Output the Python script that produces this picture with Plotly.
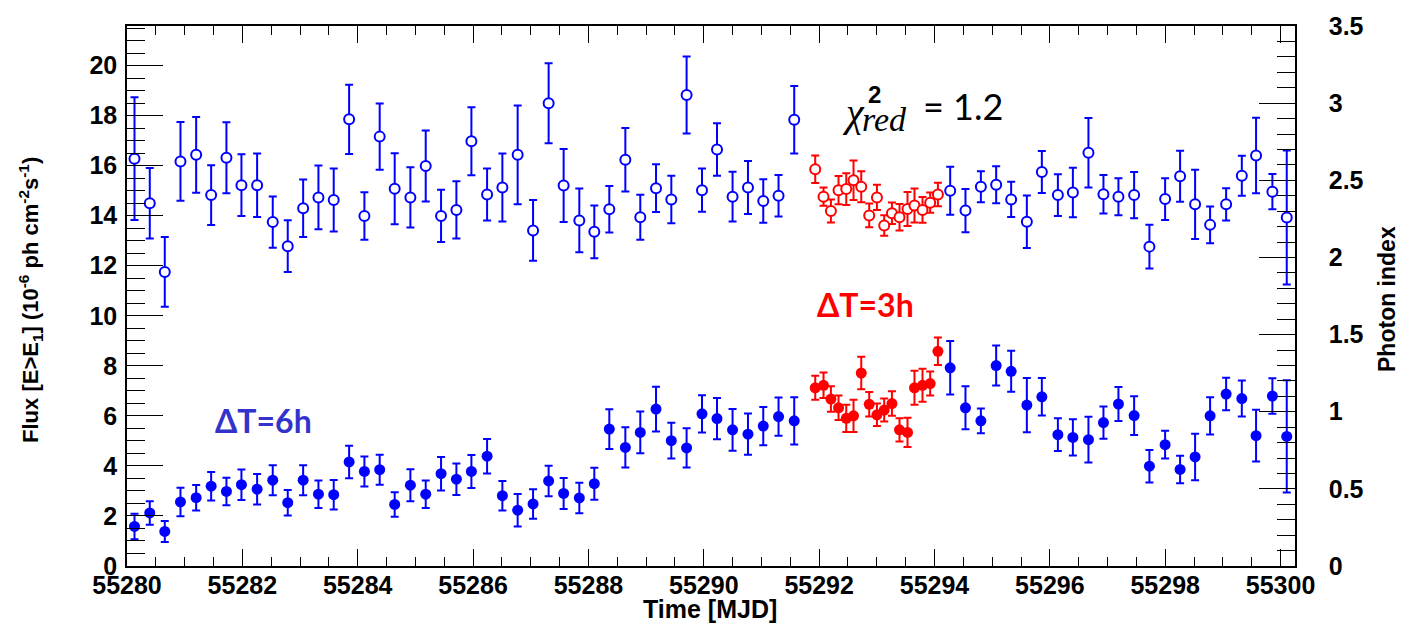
import plotly.graph_objects as go

# ---------------- data ----------------
# 6-hour bins (blue)
t_6h = [55280.130, 55280.395, 55280.655, 55280.927, 55281.199, 55281.459, 55281.724, 55281.984,
        55282.256, 55282.527, 55282.787, 55283.054, 55283.319, 55283.584, 55283.851, 55284.116,
        55284.381, 55284.641, 55284.913, 55285.179, 55285.445, 55285.711, 55285.971, 55286.243,
        55286.508, 55286.773, 55287.040, 55287.310, 55287.570, 55287.842, 55288.102, 55288.362,
        55288.640, 55288.899, 55289.172, 55289.437, 55289.702, 55289.969, 55290.229, 55290.499,
        55290.766, 55291.031, 55291.296, 55291.568,
        55294.272, 55294.537, 55294.804, 55295.069, 55295.329, 55295.601, 55295.861, 55296.139,
        55296.399, 55296.669, 55296.929, 55297.189, 55297.461, 55297.726, 55297.998, 55298.258,
        55298.518, 55298.778, 55299.056, 55299.328, 55299.575, 55299.858, 55300.107]
flux_6h = [1.58, 2.12, 1.38, 2.56, 2.73, 3.19, 2.98, 3.25, 3.07, 3.43, 2.53, 3.43, 2.87, 2.85,
           4.16, 3.78, 3.85, 2.46, 3.23, 2.87, 3.69, 3.47, 3.78, 4.39, 2.81, 2.23, 2.48, 3.40,
           2.90, 2.72, 3.29, 5.47, 4.74, 5.34, 6.27, 5.01, 4.72, 6.08, 5.89, 5.44, 5.27, 5.59,
           5.97, 5.80,
           7.92, 6.32, 5.80, 8.01, 7.78, 6.43, 6.76, 5.25, 5.14, 5.05, 5.73, 6.47, 6.01, 3.99,
           4.85, 3.86, 4.36, 6.00, 6.87, 6.69, 5.21, 6.79, 5.18]
flux_6h_err = [0.51, 0.47, 0.42, 0.57, 0.51, 0.57, 0.55, 0.61, 0.61, 0.60, 0.51, 0.60, 0.55, 0.59,
               0.65, 0.60, 0.60, 0.49, 0.64, 0.55, 0.67, 0.63, 0.66, 0.69, 0.59, 0.65, 0.59, 0.61,
               0.62, 0.61, 0.64, 0.79, 0.80, 0.83, 0.89, 0.71, 0.78, 0.74, 0.82, 0.83, 0.82, 0.76,
               0.76, 0.94,
               1.07, 0.86, 0.49, 0.80, 0.82, 1.08, 0.75, 0.65, 0.72, 0.91, 0.64, 0.68, 0.77, 0.65,
               0.55, 0.55, 0.93, 0.74, 0.65, 0.72, 1.03, 0.71, 2.24]
index_6h = [2.640, 2.351, 1.906, 2.622, 2.665, 2.404, 2.646, 2.468, 2.468, 2.229, 2.073, 2.319,
            2.389, 2.372, 2.895, 2.269, 2.783, 2.445, 2.389, 2.593, 2.269, 2.308, 2.753, 2.408,
            2.453, 2.665, 2.175, 2.999, 2.466, 2.240, 2.166, 2.312, 2.633, 2.261, 2.449, 2.376,
            3.053, 2.436, 2.699, 2.394, 2.453, 2.365, 2.400, 2.892,
            2.432, 2.304, 2.458, 2.471, 2.376, 2.231, 2.554, 2.404, 2.421, 2.678, 2.410, 2.394,
            2.404, 2.070, 2.378, 2.526, 2.344, 2.211, 2.344, 2.529, 2.661, 2.426, 2.259]
index_6h_err = [0.398, 0.229, 0.226, 0.255, 0.245, 0.194, 0.230, 0.200, 0.206, 0.166, 0.168, 0.186,
                0.207, 0.204, 0.225, 0.154, 0.214, 0.230, 0.195, 0.230, 0.169, 0.185, 0.220, 0.169,
                0.220, 0.320, 0.197, 0.259, 0.236, 0.207, 0.171, 0.151, 0.206, 0.146, 0.155, 0.154,
                0.249, 0.140, 0.170, 0.161, 0.172, 0.141, 0.135, 0.219,
                0.155, 0.140, 0.100, 0.120, 0.114, 0.170, 0.136, 0.135, 0.161, 0.225, 0.125, 0.120,
                0.150, 0.141, 0.135, 0.165, 0.224, 0.119, 0.105, 0.130, 0.245, 0.114, 0.434]

# 3-hour bins (red)
t_3h = [55291.932, 55292.076, 55292.204, 55292.336, 55292.470, 55292.596, 55292.730, 55292.868,
        55293.002, 55293.128, 55293.262, 55293.393, 55293.532, 55293.653, 55293.792, 55293.925,
        55294.059]
flux_3h = [7.12, 7.22, 6.67, 6.32, 5.90, 6.00, 7.71, 6.46, 6.04, 6.23, 6.49, 5.44, 5.34, 7.12,
           7.22, 7.29, 8.58]
flux_3h_err = [0.48, 0.51, 0.51, 0.49, 0.54, 0.64, 0.65, 0.49, 0.45, 0.46, 0.49, 0.46, 0.58, 0.68,
               0.66, 0.48, 0.55]
index_3h = [2.571, 2.394, 2.301, 2.436, 2.443, 2.500, 2.458, 2.272, 2.389, 2.207, 2.286, 2.261,
            2.314, 2.336, 2.308, 2.355, 2.408]
index_3h_err = [0.089, 0.059, 0.075, 0.092, 0.103, 0.128, 0.100, 0.077, 0.082, 0.066, 0.070, 0.086,
                0.110, 0.110, 0.083, 0.066, 0.076]

BLUE = "#0000ff"
RED = "#ff0000"

fig = go.Figure()

# flux (filled markers, left axis)
fig.add_trace(go.Scatter(
    x=t_6h, y=flux_6h, mode="markers", name="Flux 6h",
    marker=dict(symbol="circle", size=11, color=BLUE),
    error_y=dict(type="data", array=flux_6h_err, color=BLUE, thickness=2, width=4),
))
fig.add_trace(go.Scatter(
    x=t_3h, y=flux_3h, mode="markers", name="Flux 3h",
    marker=dict(symbol="circle", size=11, color=RED),
    error_y=dict(type="data", array=flux_3h_err, color=RED, thickness=2, width=4),
))
# photon index (open markers, right axis)
fig.add_trace(go.Scatter(
    x=t_6h, y=index_6h, mode="markers", name="Index 6h", yaxis="y2",
    marker=dict(symbol="circle", size=10, color="white", line=dict(color=BLUE, width=2)),
    error_y=dict(type="data", array=index_6h_err, color=BLUE, thickness=2, width=4),
))
fig.add_trace(go.Scatter(
    x=t_3h, y=index_3h, mode="markers", name="Index 3h", yaxis="y2",
    marker=dict(symbol="circle", size=10, color="white", line=dict(color=RED, width=2)),
    error_y=dict(type="data", array=index_3h_err, color=RED, thickness=2, width=4),
))

tickfont = dict(family="Liberation Sans, Arial, sans-serif", size=25, color="black", weight="bold")

fig.update_layout(
    width=1416, height=625,
    margin=dict(l=127, r=121, t=20, b=59),
    paper_bgcolor="white", plot_bgcolor="white",
    showlegend=False,
    xaxis=dict(
        range=[55280, 55300.25], tick0=55280, dtick=2, tickformat="d",
        ticks="inside", ticklen=17, tickwidth=1, tickcolor="black",
        minor=dict(dtick=0.5, ticklen=9, ticks="inside", tickcolor="black", tickwidth=1),
        showline=True, linecolor="black", linewidth=1.5, mirror="ticks",
        showgrid=False, zeroline=False, tickfont=tickfont, ticklabelstandoff=-4,
    ),
    yaxis=dict(
        range=[0, 21.58], tick0=0, dtick=2,
        ticks="inside", ticklen=36, tickwidth=1, tickcolor="black",
        minor=dict(dtick=0.5, ticklen=18, ticks="inside", tickcolor="black", tickwidth=1),
        showline=True, linecolor="black", linewidth=1.5,
        showgrid=False, zeroline=False, tickfont=tickfont, ticklabelstandoff=3,
    ),
    yaxis2=dict(
        overlaying="y", side="right", range=[0, 3.5], tick0=0, dtick=0.5,
        ticks="inside", ticklen=36, tickwidth=1, tickcolor="black",
        minor=dict(dtick=0.1, ticklen=18, ticks="inside", tickcolor="black", tickwidth=1),
        showline=True, linecolor="black", linewidth=1.5,
        showgrid=False, zeroline=False, tickfont=tickfont, ticklabelstandoff=27,
    ),
)

annotations = [
    dict(text="Time [MJD]", xref="paper", yref="paper", x=(710 - 127) / 1168, y=-(609 - 566) / 546,
         showarrow=False, xanchor="center", yanchor="middle",
         font=dict(family="Liberation Sans, Arial, sans-serif", size=25, color="black", weight="bold")),
    dict(text="Flux [E>E<sub>1</sub>] (10<sup>-6</sup> ph cm<sup>-2</sup>s<sup>-1</sup>)",
         xref="paper", yref="paper", x=-(127 - 31) / 1168, y=(566 - 297) / 546, textangle=-90,
         showarrow=False, xanchor="center", yanchor="middle",
         font=dict(family="Liberation Sans, Arial, sans-serif", size=22, color="black", weight="bold")),
    dict(text="Photon index", xref="paper", yref="paper", x=(1387 - 127) / 1168, y=(566 - 296) / 546,
         textangle=-90, showarrow=False, xanchor="center", yanchor="middle",
         font=dict(family="Liberation Sans, Arial, sans-serif", size=23, color="black", weight="bold")),
    dict(text="ΔT=6h", x=55282.37, y=5.80, xref="x", yref="y", showarrow=False,
         font=dict(family="Lato, sans-serif", size=32, color="#3333cc", weight="bold")),
    dict(text="ΔT=3h", x=55292.80, y=10.45, xref="x", yref="y", showarrow=False,
         font=dict(family="Lato, sans-serif", size=32, color=RED, weight="bold")),
    dict(text="<i>χ</i>", x=55292.59, y=18.14, xref="x", yref="y", showarrow=False,
         font=dict(family="Liberation Serif, DejaVu Serif, serif", size=40, color="black")),
    dict(text="<i>red</i>", x=55293.13, y=17.85, xref="x", yref="y", showarrow=False,
         font=dict(family="Liberation Serif, DejaVu Serif, serif", size=34, color="black")),
    dict(text="2", x=55292.96, y=18.85, xref="x", yref="y", showarrow=False,
         font=dict(family="Liberation Sans, Arial, sans-serif", size=24, color="black", weight="bold")),
    dict(text="= 1.2", x=55294.50, y=18.38, xref="x", yref="y", showarrow=False,
         font=dict(family="Lato, sans-serif", size=36, color="black")),
]
fig.update_layout(annotations=annotations)

fig.write_html("out.html")
